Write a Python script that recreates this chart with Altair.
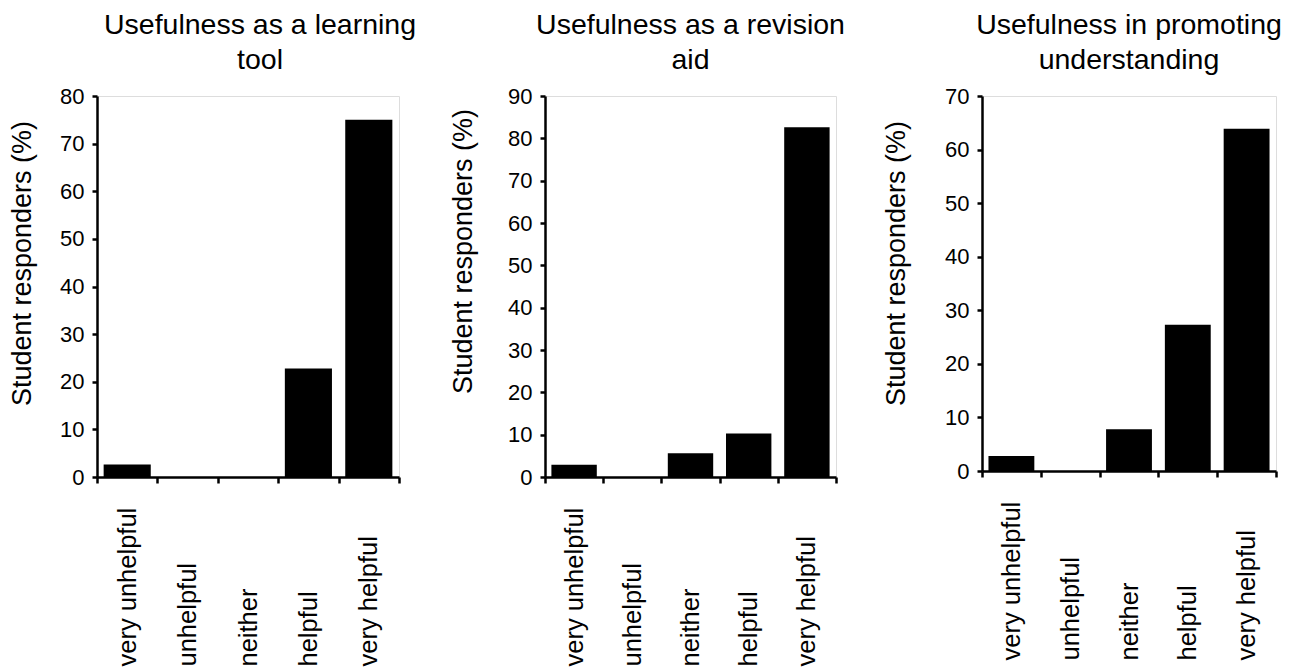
import altair as alt
import pandas as pd

categories = ["very unhelpful", "unhelpful", "neither", "helpful", "very helpful"]
learning_tool = [2.6, 0, 0, 22.8, 75.0]
revision_aid = [2.9, 0, 5.6, 10.3, 82.6]
understanding = [2.8, 0, 7.8, 27.3, 63.9]

panel_titles = [
    ["Usefulness as a learning", "tool"],
    ["Usefulness as a revision", "aid"],
    ["Usefulness in promoting", "understanding"],
]
y_max = [80, 90, 70]
y_title = "Student responders (%)"

FONT = "Liberation Sans"


def panel(values, title, ymax, w, h, title_pad, title_y, title_dx):
    df = pd.DataFrame({"category": categories, "value": values})
    return (
        alt.Chart(
            df,
            title=alt.TitleParams(
                title,
                font=FONT,
                fontSize=28.5,
                fontWeight="normal",
                color="black",
                lineHeight=35,
                anchor="middle",
                frame="group",
                offset=11,
                dx=title_dx,
            ),
        )
        .mark_bar(color="black", width=alt.RelativeBandSize(0.78))
        .encode(
            x=alt.X(
                "category:N",
                sort=categories,
                scale=alt.Scale(paddingInner=0, paddingOuter=0),
                axis=alt.Axis(
                    title=None,
                    labelAngle=270,
                    labelAlign="left",
                    labelBaseline="middle",
                    labelPadding=183,
                    labelFont=FONT,
                    labelFontSize=25.5,
                    labelColor="black",
                    labelLimit=400,
                    tickBand="extent",
                    tickSize=6,
                    tickWidth=2.5,
                    tickColor="black",
                    domainColor="black",
                    domainWidth=2.5,
                ),
            ),
            y=alt.Y(
                "value:Q",
                scale=alt.Scale(domain=[0, ymax], nice=False),
                axis=alt.Axis(
                    values=list(range(0, ymax + 1, 10)),
                    title=y_title,
                    titleFont=FONT,
                    titleFontSize=27,
                    titleFontWeight="normal",
                    titleColor="black",
                    titlePadding=title_pad,
                    titleY=title_y,
                    labelFont=FONT,
                    labelFontSize=22,
                    labelColor="black",
                    labelPadding=8,
                    tickSize=5,
                    tickWidth=2.5,
                    tickColor="black",
                    domainColor="black",
                    domainWidth=2.5,
                    grid=False,
                ),
            ),
        )
        .properties(width=w, height=h)
    )


p1 = panel(learning_tool, panel_titles[0], y_max[0], 302, 381, 23, 167, 12)
p2 = panel(revision_aid, panel_titles[1], y_max[1], 291, 381, 30, 155, 0)
p3 = panel(understanding, panel_titles[2], y_max[2], 294, 375, 34, 167, 0)

chart = (
    alt.hconcat(p1, p2, p3, spacing=146, bounds="flush")
    .properties(padding={"left": 0, "top": 2, "right": 0, "bottom": 0})
    .configure_view(stroke=None)
    .configure(background="white")
)

chart.save("out.html", embed_options={"renderer": "svg", "actions": False})
